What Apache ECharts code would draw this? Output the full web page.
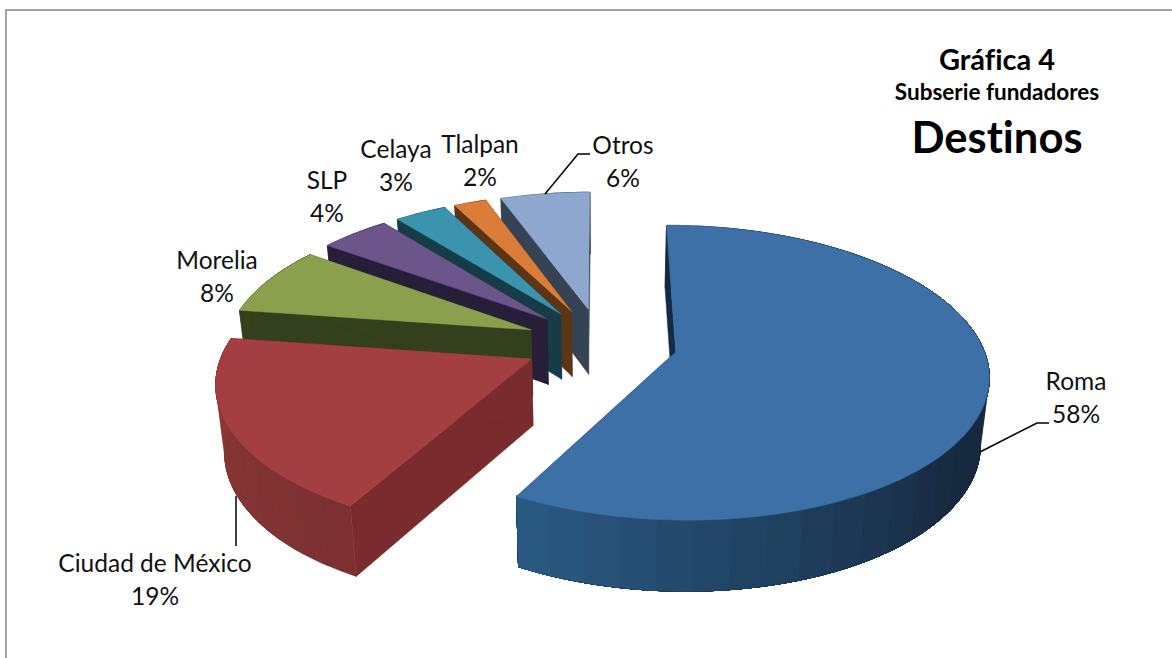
<!DOCTYPE html>
<html><head><meta charset="utf-8">
<style>html,body{margin:0;padding:0;background:#fff}#c{width:1172px;height:658px}#c text{font-variant-ligatures:none;font-feature-settings:"liga" 0,"clig" 0}</style>
<script src="https://cdn.jsdelivr.net/npm/echarts@6/dist/echarts.min.js"></script>
</head><body><div id="c"></div>
<script>
// DATA (estimated shares behind the rounded labels)
const categories = ['Roma','Ciudad de México','Morelia','SLP','Celaya','Tlalpan','Otros'];
const percentages = [58,19.3,7.7,4.3,3.2,2,5.5];
// STYLE
const topColors   = ['#3d70a6','#a33f42','#8aa04c','#6b558b','#3a94ae','#da7d39','#8ea7cf'];
const faceColors  = ['#152a45','#7a2b2d','#333f1d','#271e39','#163c48','#5b3514','#364354'];
const outerFrom   = ['#2a5a83','#8c3836','#333f1d','#271e39','#163c48','#5b3514','#364354'];
const outerTo     = ['#17293f','#7c3031','#333f1d','#271e39','#163c48','#5b3514','#364354'];
const labelCenters = [[1076,397],[155,579],[217,276],[327,196],[396,165],[480,160],[623,161]];
// LAYOUT of the projected pie (px)
const view = {cx:601, cy:343, fx:306, fy:142, persp:0.14, explode:0.25, depth:65, depthGrow:0.028, depthRef:305, shrink:0.977, vanishX:603};

const total = percentages.reduce((a,b)=>a+b,0);
const startAngles = []; let acc = 0;
percentages.forEach(v=>{startAngles.push(acc/total*2*Math.PI); acc+=v;});

function project(u,v){
  const k = 1-view.persp*v;
  return [view.cx+view.fx*u/k, view.cy+view.fy*v/k];
}
function lower(p){
  return [view.vanishX+(p[0]-view.vanishX)*view.shrink, p[1]+view.depth+(p[1]-view.depthRef)*view.depthGrow];
}
function mix(a,b,t){
  const p=s=>[1,3,5].map(i=>parseInt(s.substr(i,2),16));
  const A=p(a),B=p(b);
  return 'rgb('+A.map((x,i)=>Math.round(x+(B[i]-x)*t)).join(',')+')';
}
function poly(points,fill){
  return {type:'polygon',shape:{points},style:{fill,stroke:fill,lineWidth:0.5}};
}
function renderSlice(params,api){
  const i = api.value(0);
  const a0 = startAngles[i], a1 = a0+percentages[i]/total*2*Math.PI, mid=(a0+a1)/2;
  const ox = Math.sin(mid)*view.explode, oy = -Math.cos(mid)*view.explode;
  const rim = a=>project(ox+Math.sin(a),oy-Math.cos(a));
  const apex = project(ox,oy);
  const steps = Math.max(3,Math.ceil((a1-a0)/(Math.PI/30)));
  const fine = [];
  for(let s=0;s<=steps*4;s++) fine.push(rim(a0+(a1-a0)*s/(steps*4)));
  const kids = [];
  // radial cut faces
  [fine[0],fine[fine.length-1]].forEach(p=>{
    kids.push(poly([apex,p,lower(p),lower(apex)],faceColors[i]));
  });
  // outer wall: each band covers the rest of the arc, so no seams appear between bands
  for(let s=0;s<steps;s++){
    const part = fine.slice(s*4);
    const t = i===0 ? Math.min(1,(1-(s+0.5)/steps)*2.5) : 1-(s+0.5)/steps;
    const c = mix(outerFrom[i],outerTo[i],t);
    kids.push(poly(part.concat(part.map(lower).reverse()),c));
  }
  // top surface
  kids.push(poly([apex].concat(fine),topColors[i]));
  // data label
  kids.push({type:'text',z2:50,style:{
    text:categories[i]+'\n'+Math.round(percentages[i])+'%',
    x:labelCenters[i][0],y:labelCenters[i][1],
    align:'center',verticalAlign:'middle',
    font:'24.5px Lato',lineHeight:33,fill:'#111'}});
  return {type:'group',children:kids};
}
const drawOrder = categories.map((_,i)=>[i]).reverse();

const chart = echarts.init(document.getElementById('c'),null,{renderer:'svg'});
const titleBase = {left:992,textAlign:'center',textStyle:{fontFamily:'Lato',fontWeight:'bold',color:'#000'}};
chart.setOption({
  animation:false,
  backgroundColor:'#fff',
  title:[
    {...titleBase,text:'Gráfica 4',top:39,textStyle:{...titleBase.textStyle,fontSize:29}},
    {...titleBase,text:'Subserie fundadores',top:75,textStyle:{...titleBase.textStyle,fontSize:22.5}},
    {...titleBase,text:'Destinos',top:109,textStyle:{...titleBase.textStyle,fontSize:43.5}}
  ],
  graphic:[
    {type:'polyline',silent:true,shape:{points:[[6,658],[6,10],[1172,10]]},style:{stroke:'#868686',lineWidth:1.5,fill:null}},
    {type:'polyline',silent:true,z:10,shape:{points:[[980,452],[1037,423],[1049,423]]},style:{stroke:'#000',lineWidth:1.5,fill:null}},
    {type:'polyline',silent:true,z:10,shape:{points:[[545,194],[578,154],[590,154]]},style:{stroke:'#000',lineWidth:1.5,fill:null}},
    {type:'polyline',silent:true,z:10,shape:{points:[[236,496],[236,546]]},style:{stroke:'#000',lineWidth:1.5,fill:null}}
  ],
  series:[{type:'custom',coordinateSystem:'none',renderItem:renderSlice,data:drawOrder,silent:true,z:2}]
});
</script></body></html>
